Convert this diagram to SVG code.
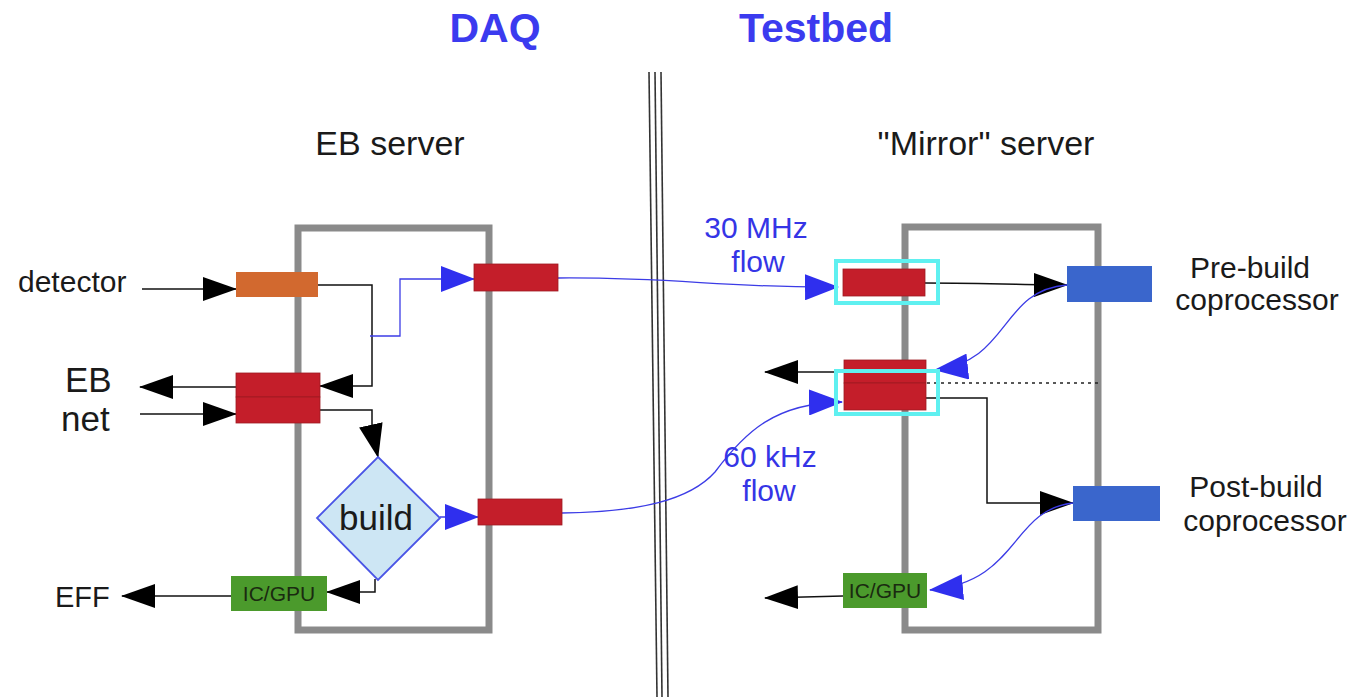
<svg xmlns="http://www.w3.org/2000/svg" width="1355" height="697" viewBox="0 0 1355 697">
<style>
  text { font-family: "Liberation Sans", Arial, sans-serif; fill: #1a1a1a; }
  .title { font-weight: bold; font-size: 41px; fill: #3b3bef; text-anchor: middle; }
  .server { font-size: 34px; text-anchor: middle; }
  .lbl { font-size: 30px; }
  .big { font-size: 35px; }
  .eff { font-size: 29px; }
  .flowlbl { font-size: 30px; fill: #3535e6; text-anchor: middle; }
  .cop { font-size: 30px; text-anchor: middle; }
  .frame { fill: none; stroke: #8a8a8a; stroke-width: 7; }
  .red { fill: #c41e2a; stroke: #9e1a22; stroke-width: 0.8; }
  .orange { fill: #d2692f; }
  .bluebox { fill: #3a66cc; }
  .green { fill: #4b9a2c; }
  .gtxt { font-size: 21px; fill: #1a2a10; text-anchor: middle; }
  .cyan { fill: none; stroke: #5ff0f0; stroke-width: 4; }
  .blk { fill: none; stroke: #111; stroke-width: 1.5; marker-end: url(#ah); }
  .blu { fill: none; stroke: #3c3ce6; stroke-width: 1.3; marker-end: url(#ahb); }
  .sep { stroke: #333; stroke-width: 1.6; }
</style>
<defs>
  <marker id="ah" markerUnits="userSpaceOnUse" markerWidth="34" markerHeight="24" refX="33" refY="12" orient="auto">
    <path d="M0,0 L34,12 L0,24 z" fill="#000"/>
  </marker>
  <marker id="ahb" markerUnits="userSpaceOnUse" markerWidth="34" markerHeight="26" refX="33" refY="13" orient="auto">
    <path d="M0,0 L34,13 L0,26 z" fill="#2f2fee"/>
  </marker>
</defs>
<rect width="1355" height="697" fill="#fff"/>

<g id="titles">
  <text class="title" x="495" y="42">DAQ</text>
  <text class="title" x="816" y="42">Testbed</text>
  <text class="server" x="390" y="155">EB server</text>
  <text class="server" x="986" y="155">"Mirror" server</text>
</g>

<g id="separator">
  <line class="sep" x1="649" y1="72" x2="657" y2="697"/>
  <line class="sep" x1="655" y1="72" x2="662" y2="697"/>
  <line class="sep" x1="661" y1="72" x2="668" y2="697"/>
</g>

<g id="eb-server">
  <rect class="frame" x="298" y="228" width="191" height="402"/>
</g>
<g id="mirror-server">
  <rect class="frame" x="905" y="227" width="193" height="403"/>
</g>

<g id="connectors">
  <!-- left side -->
  <path class="blk" d="M142,289 H236"/>
  <path class="blk" d="M318,285 H372 V386 H320"/>
  <path class="blu" d="M370,336 H400 V279 H474"/>
  <path class="blk" d="M236,387 H140"/>
  <path class="blk" d="M140,414 H236"/>
  <path class="blk" d="M320,410 H372 V430 L378,457"/>
  <path class="blu" d="M440,517 H478"/>
  <path class="blk" d="M375,579 V592 H327"/>
  <path class="blk" d="M231,596 H122"/>
  <!-- flows -->
  <path class="blu" d="M558,278 C 680,277 720,288 838,287"/>
  <path class="blu" d="M562,513 C 640,512 690,500 715,472 C 745,432 775,403 842,402"/>
  <!-- right side -->
  <path class="blk" d="M925,283 C 990,283 1030,285 1067,285"/>
  <path class="blu" d="M1067,285 C 1000,290 1010,362 935,370"/>
  <path class="blk" d="M844,372 H765"/>
  <path d="M913,383 H1098" stroke="#222" stroke-width="1.6" stroke-dasharray="3,4" fill="none"/>
  <path class="blk" d="M926,398 H987 V503 H1073"/>
  <path class="blu" d="M1073,503 C 1010,510 1020,582 930,590"/>
  <path class="blk" d="M843,596 L765,598"/>
</g>

<g id="detector-label"><text class="lbl" x="18" y="292">detector</text></g>
<g id="ebnet-label"><text class="big" x="65" y="392">EB</text><text class="big" x="61" y="431">net</text></g>
<g id="eff-label"><text class="eff" x="55" y="607">EFF</text></g>

<g id="detector-port"><rect class="orange" x="236" y="272" width="82" height="25"/></g>
<g id="daq-out-top"><rect class="red" x="474" y="264" width="84" height="27"/></g>
<g id="ebnet-port">
  <rect class="red" x="236" y="373" width="84" height="24"/>
  <rect class="red" x="236" y="397" width="84" height="26"/>
</g>
<g id="build">
  <polygon points="378,457 440,518 378,580 317,518" fill="#cde6f4" stroke="#4a55e6" stroke-width="1.8"/>
  <text x="376" y="530" font-size="35" text-anchor="middle">build</text>
</g>
<g id="daq-out-bottom"><rect class="red" x="478" y="499" width="84" height="26"/></g>
<g id="icgpu-left">
  <rect class="green" x="231" y="576" width="96" height="35"/>
  <text class="gtxt" x="279" y="601">IC/GPU</text>
</g>

<g id="flow30-label">
  <text class="flowlbl" x="756" y="238">30 MHz</text>
  <text class="flowlbl" x="758" y="272">flow</text>
</g>
<g id="flow60-label">
  <text class="flowlbl" x="770" y="467">60 kHz</text>
  <text class="flowlbl" x="769" y="501">flow</text>
</g>

<g id="mirror-in-top">
  <rect class="red" x="843" y="269" width="82" height="27"/>
  <rect class="cyan" x="836" y="261" width="102" height="42"/>
</g>
<g id="mirror-mid">
  <rect class="red" x="844" y="360" width="82" height="23"/>
  <rect class="red" x="844" y="383" width="82" height="27"/>
  <rect class="cyan" x="836" y="371" width="102" height="43"/>
</g>
<g id="prebuild">
  <rect class="bluebox" x="1067" y="266" width="85" height="36"/>
  <text class="cop" x="1250" y="278">Pre-build</text>
  <text class="cop" x="1257" y="310">coprocessor</text>
</g>
<g id="postbuild">
  <rect class="bluebox" x="1073" y="486" width="87" height="35"/>
  <text class="cop" x="1256" y="497">Post-build</text>
  <text class="cop" x="1265" y="531">coprocessor</text>
</g>
<g id="icgpu-right">
  <rect class="green" x="843" y="573" width="84" height="35"/>
  <text class="gtxt" x="885" y="598">IC/GPU</text>
</g>
</svg>
